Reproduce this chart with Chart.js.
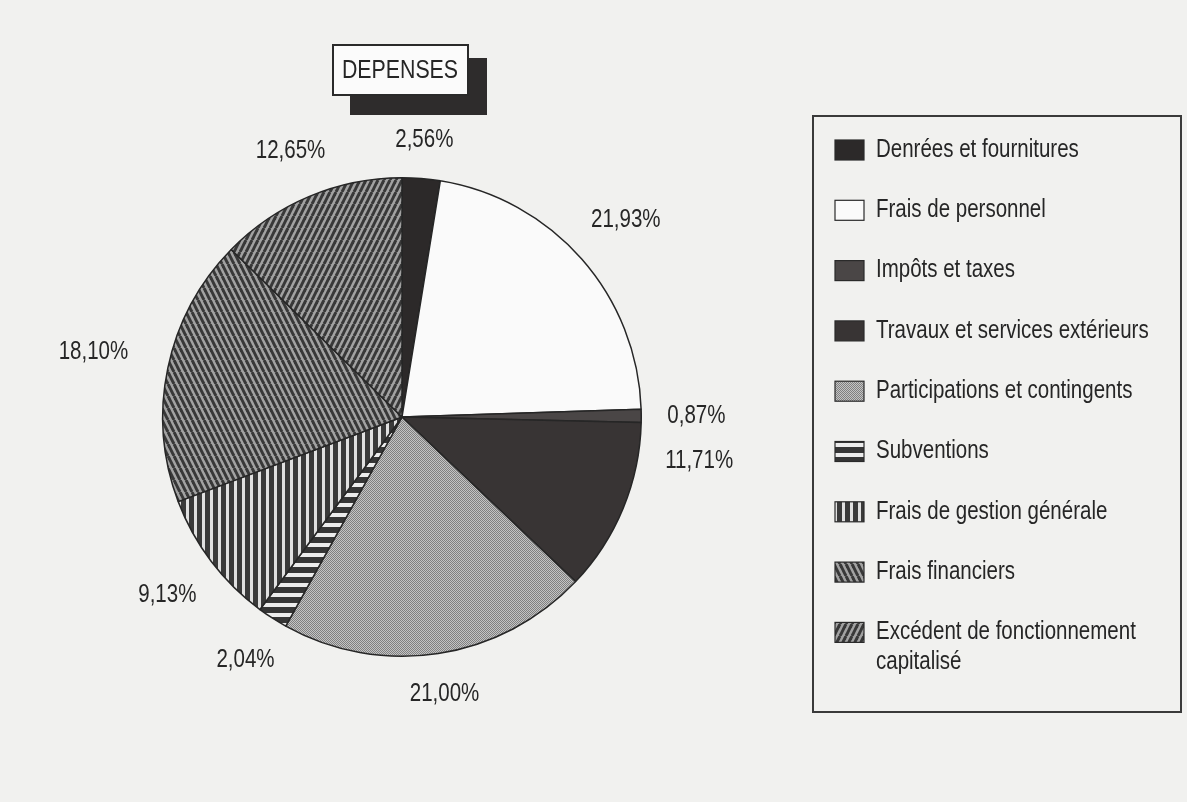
<!DOCTYPE html>
<html>
<head>
<meta charset="utf-8">
<script src="https://cdn.jsdelivr.net/npm/chart.js@4/dist/chart.umd.min.js"></script>
<style>
  html, body { margin: 0; padding: 0; background: #f1f1ef; }
  #wrap { width: 1187px; height: 802px; position: relative; }
</style>
</head>
<body>
<div id="wrap"><canvas id="pie"></canvas></div>
<script>
const chartTitle = "DEPENSES";

const categories = [
  "Denrées et fournitures",
  "Frais de personnel",
  "Impôts et taxes",
  "Travaux et services extérieurs",
  "Participations et contingents",
  "Subventions",
  "Frais de gestion générale",
  "Frais financiers",
  "Excédent de fonctionnement capitalisé"
];

const shares = [2.56, 21.93, 0.87, 11.71, 21.00, 2.04, 9.13, 18.10, 12.65];

const shareLabels = shares.map((v) => v.toFixed(2).replace(".", ",") + "%");

const squeeze = 0.82;
const inkColor = "#262626";

// fill patterns, roughly like the printed hatching
const makeTile = (w, h, paint) => {
  const c = document.createElement("canvas");
  c.width = w;
  c.height = h;
  const g = c.getContext("2d");
  paint(g, w, h);
  return g.createPattern(c, "repeat");
};

const solid = (color) => makeTile(4, 4, (g, w, h) => {
  g.fillStyle = color;
  g.fillRect(0, 0, w, h);
});

const dotted = makeTile(2, 2, (g) => {
  g.fillStyle = "#c4c4c4";
  g.fillRect(0, 0, 2, 2);
  g.fillStyle = "#808080";
  g.fillRect(0, 0, 1, 1);
  g.fillRect(1, 1, 1, 1);
});

const hStripes = makeTile(4, 10, (g) => {
  g.fillStyle = "#363636";
  g.fillRect(0, 0, 4, 10);
  g.fillStyle = "#ececec";
  g.fillRect(0, 3, 4, 4);
});

const vStripes = makeTile(8, 4, (g) => {
  g.fillStyle = "#3a3a3a";
  g.fillRect(0, 0, 8, 4);
  g.fillStyle = "#e0e0e0";
  g.fillRect(2, 0, 3, 4);
});

const diagonal = (dir) => makeTile(6, 12, (g, w, h) => {
  g.fillStyle = "#a2a2a2";
  g.fillRect(0, 0, w, h);
  g.strokeStyle = "#383838";
  g.lineWidth = 3;
  for (let k = -1; k <= 1; k++) {
    g.beginPath();
    if (dir > 0) {
      g.moveTo(k * w, h);
      g.lineTo(k * w + w, 0);
    } else {
      g.moveTo(k * w, 0);
      g.lineTo(k * w + w, h);
    }
    g.stroke();
  }
});

const fills = [
  solid("#2c2929"),
  solid("#fafafa"),
  solid("#4a4646"),
  solid("#383434"),
  dotted,
  hStripes,
  vStripes,
  diagonal(-1),
  diagonal(1)
];

const drawText = (ctx, text, x, y, size, align) => {
  ctx.save();
  ctx.font = `${size}px "Liberation Sans", Arial, sans-serif`;
  const w = ctx.measureText(text).width * squeeze;
  const left = align === "center" ? x - w / 2 : align === "right" ? x - w : x;
  ctx.translate(left, y);
  ctx.scale(squeeze, 1);
  ctx.textAlign = "left";
  ctx.textBaseline = "middle";
  ctx.fillStyle = inkColor;
  ctx.fillText(text, 0, 0);
  ctx.restore();
  return w;
};

const textWidth = (ctx, text, size) => {
  ctx.save();
  ctx.font = `${size}px "Liberation Sans", Arial, sans-serif`;
  const w = ctx.measureText(text).width * squeeze;
  ctx.restore();
  return w;
};

const wrapText = (ctx, text, size, maxWidth) => {
  const lines = [];
  let line = "";
  text.split(" ").forEach((word) => {
    const next = line ? line + " " + word : word;
    if (line && textWidth(ctx, next, size) > maxWidth) {
      lines.push(line);
      line = word;
    } else {
      line = next;
    }
  });
  lines.push(line);
  return lines;
};

const sliceLabels = {
  id: "sliceLabels",
  afterDatasetsDraw(chart, args, opts) {
    const ctx = chart.ctx;
    const meta = chart.getDatasetMeta(0);
    meta.data.forEach((arc, i) => {
      const p = arc.getProps(["x", "y", "startAngle", "endAngle", "outerRadius"], true);
      const mid = (p.startAngle + p.endAngle) / 2 + ((opts.angleShift[i] || 0) * Math.PI) / 180;
      const text = shareLabels[i];
      const w = textWidth(ctx, text, opts.size);
      const dx = Math.cos(mid);
      const dy = Math.sin(mid);
      const r = p.outerRadius + opts.gap + (opts.extraGap[i] || 0) + (w / 2) * Math.abs(dx) + 10 * Math.abs(dy);
      drawText(ctx, text, p.x + r * dx, p.y + r * dy, opts.size, "center");
    });
  }
};

const titleBox = {
  id: "titleBox",
  afterDraw(chart) {
    const ctx = chart.ctx;
    ctx.save();
    ctx.fillStyle = "#2e2c2c";
    ctx.fillRect(350, 58, 137, 57);
    ctx.fillStyle = "#fbfbfb";
    ctx.fillRect(333, 45, 135, 50);
    ctx.strokeStyle = "#2a2a2a";
    ctx.lineWidth = 2;
    ctx.strokeRect(333, 45, 135, 50);
    ctx.restore();
    drawText(ctx, chartTitle, 400, 71, 26, "center");
  }
};

const boxLegend = {
  id: "boxLegend",
  afterDraw(chart) {
    const ctx = chart.ctx;
    const box = { x: 813, y: 116, w: 368, h: 596 };
    ctx.save();
    ctx.strokeStyle = "#3a3a3a";
    ctx.lineWidth = 2;
    ctx.strokeRect(box.x, box.y, box.w, box.h);
    ctx.restore();

    let y = 150;
    categories.forEach((name, i) => {
      ctx.save();
      ctx.fillStyle = fills[i];
      ctx.fillRect(835, y - 10, 29, 20);
      ctx.strokeStyle = "#2a2a2a";
      ctx.lineWidth = 1.2;
      ctx.strokeRect(835, y - 10, 29, 20);
      ctx.restore();
      const lines = wrapText(ctx, name, 25, 300);
      lines.forEach((line, k) => {
        drawText(ctx, line, 876, y + k * 30, 25, "left");
      });
      y += 60.3;
    });
  }
};

new Chart(document.getElementById("pie"), {
  type: "pie",
  data: {
    labels: categories,
    datasets: [
      {
        data: shares,
        backgroundColor: fills,
        borderColor: "#262626",
        borderWidth: 1.5
      }
    ]
  },
  options: {
    responsive: true,
    maintainAspectRatio: false,
    animation: false,
    layout: {
      padding: { left: 162, right: 545, top: 177, bottom: 145 }
    },
    plugins: {
      legend: { display: false },
      tooltip: { enabled: false },
      sliceLabels: { size: 25, gap: 26, angleShift: { 3: -14 }, extraGap: { 7: 14 } }
    }
  },
  plugins: [sliceLabels, titleBox, boxLegend]
});
</script>
</body>
</html>
